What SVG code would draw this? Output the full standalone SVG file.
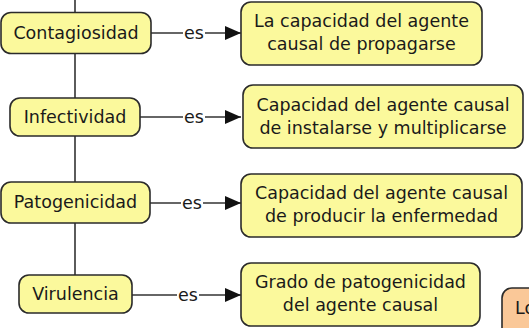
<svg xmlns="http://www.w3.org/2000/svg" width="529" height="328" viewBox="0 0 529 328">
<defs>
<style>
.n{fill:#FBF99C;stroke:#2b2b2b;stroke-width:1.6}
.o{fill:#FAC898;stroke:#2b2b2b;stroke-width:1.6}
.t{font-family:"DejaVu Sans",Verdana,sans-serif;font-size:17.5px;fill:#1a1a1a;text-anchor:middle}
.l{stroke:#333;stroke-width:1.6;fill:none}
.lb{font-family:"DejaVu Sans",Verdana,sans-serif;font-size:17.5px;fill:#1a1a1a;text-anchor:middle}
.gap{fill:#fff}
</style>
<marker id="ah" markerWidth="16" markerHeight="14" refX="16" refY="7" orient="auto" markerUnits="userSpaceOnUse">
<path d="M0,0 L16,7 L0,14 Z" fill="#111"/>
</marker>
</defs>
<rect width="529" height="328" fill="#fff"/>
<g id="connectors">
<line class="l" x1="75" y1="0" x2="75" y2="275"/>
<line class="l" x1="151" y1="33" x2="241" y2="33" marker-end="url(#ah)"/>
<rect class="gap" x="183" y="25" width="22" height="16"/>
<text class="lb" x="194" y="38.5">es</text>
<line class="l" x1="140" y1="117" x2="241" y2="117" marker-end="url(#ah)"/>
<rect class="gap" x="183" y="109" width="22" height="16"/>
<text class="lb" x="194" y="122.5">es</text>
<line class="l" x1="150" y1="203" x2="241" y2="203" marker-end="url(#ah)"/>
<rect class="gap" x="181" y="195" width="22" height="16"/>
<text class="lb" x="192" y="208.5">es</text>
<line class="l" x1="132" y1="295" x2="241" y2="295" marker-end="url(#ah)"/>
<rect class="gap" x="177" y="287" width="22" height="16"/>
<text class="lb" x="188" y="300.5">es</text>
</g>
<g id="contagiosidad">
<rect class="n" x="1" y="12.5" width="150" height="41" rx="10"/>
<text class="t" x="76" y="39">Contagiosidad</text>
</g>
<g id="infectividad">
<rect class="n" x="10" y="98" width="130" height="38" rx="10"/>
<text class="t" x="75" y="123">Infectividad</text>
</g>
<g id="patogenicidad">
<rect class="n" x="1" y="182" width="149" height="41" rx="10"/>
<text class="t" x="75.5" y="208">Patogenicidad</text>
</g>
<g id="virulencia">
<rect class="n" x="19" y="275" width="113" height="38" rx="10"/>
<text class="t" x="75.5" y="300">Virulencia</text>
</g>
<g id="def-contagiosidad">
<rect class="n" x="241" y="2" width="241" height="63" rx="10"/>
<text class="t" x="361.5" y="27">La capacidad del agente</text>
<text class="t" x="361.5" y="50">causal de propagarse</text>
</g>
<g id="def-infectividad">
<rect class="n" x="243" y="85" width="280" height="63" rx="10"/>
<text class="t" x="383" y="111">Capacidad del agente causal</text>
<text class="t" x="383" y="134">de instalarse y multiplicarse</text>
</g>
<g id="def-patogenicidad">
<rect class="n" x="241" y="174" width="281" height="63" rx="10"/>
<text class="t" x="381.5" y="199">Capacidad del agente causal</text>
<text class="t" x="381.5" y="222">de producir la enfermedad</text>
</g>
<g id="def-virulencia">
<rect class="n" x="241" y="263" width="239" height="63" rx="10"/>
<text class="t" x="360.5" y="288">Grado de patogenicidad</text>
<text class="t" x="360.5" y="311">del agente causal</text>
</g>
<g id="lo">
<rect class="o" x="502" y="288" width="60" height="60" rx="10"/>
<text class="t" x="515" y="314" style="text-anchor:start">Lo</text>
</g>
</svg>
